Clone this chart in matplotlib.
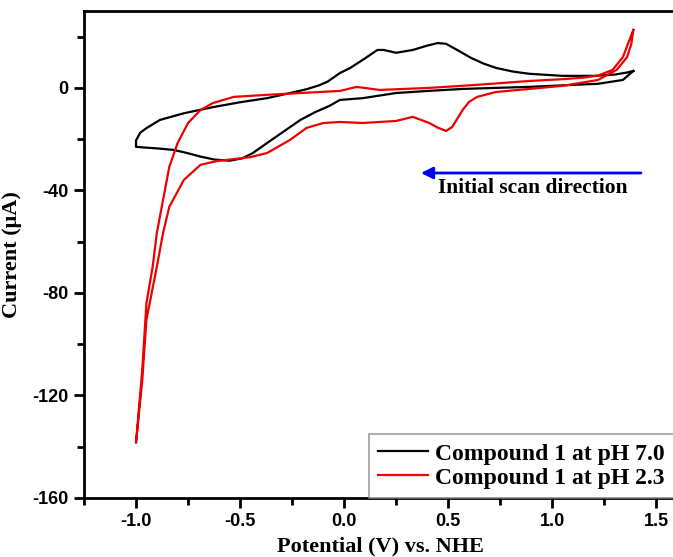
import matplotlib
matplotlib.use("Agg")
import matplotlib.pyplot as plt

plt.rcParams["axes.unicode_minus"] = False

# pH 7.0 cyclic voltammogram (V vs NHE, uA), starting at the anodic end
e_ph7 = [1.39, 1.34, 1.22, 1.05, 0.89, 0.73, 0.57, 0.40, 0.25, 0.09, -0.02, -0.07, -0.14, -0.21, -0.29,
         -0.37, -0.44, -0.49, -0.55, -0.62, -0.69, -0.76, -0.82, -0.90, -0.97, -1.0, -1.0, -0.98,
         -0.95, -0.885, -0.77, -0.63, -0.50, -0.37, -0.27, -0.18, -0.12, -0.08, -0.02, 0.03, 0.10,
         0.16, 0.19, 0.25, 0.33, 0.40, 0.45, 0.49, 0.55, 0.61, 0.67, 0.73, 0.81, 0.89, 1.05, 1.21,
         1.30, 1.36, 1.39]
i_ph7 = [6.6, 3.1, 1.6, 1.0, 0.4, 0.0, -0.4, -1.2, -2.0, -4.0, -4.7, -7.0, -9.5, -12.5, -17.0,
         -21.5, -25.5, -27.5, -28.4, -28.0, -26.8, -25.3, -24.2, -23.6, -23.2, -23.0, -20.5, -17.5,
         -15.7, -12.5, -9.9, -7.5, -5.6, -4.0, -2.2, -0.5, 1.0, 2.4, 5.8, 7.8, 11.5,
         14.8, 14.8, 13.7, 14.8, 16.5, 17.5, 17.2, 14.5, 11.7, 9.5, 7.8, 6.4, 5.5, 4.7, 4.7,
         5.2, 6.0, 6.6]

# pH 2.3 cyclic voltammogram
e_ph2 = [1.39, 1.38, 1.36, 1.31, 1.22, 1.05, 0.89, 0.73, 0.64, 0.60, 0.57, 0.52, 0.49, 0.45, 0.41,
         0.33, 0.25, 0.09, -0.02, -0.10, -0.18, -0.26, -0.37, -0.45, -0.53, -0.61, -0.69, -0.77,
         -0.84, -0.87, -0.90, -0.95, -0.97, -1.0, -0.97, -0.95, -0.92, -0.90, -0.87, -0.84, -0.80,
         -0.75, -0.69, -0.63, -0.53, -0.37, -0.21, -0.02, 0.06, 0.17, 0.41, 0.64, 0.89, 1.05,
         1.15, 1.22, 1.29, 1.34, 1.39]
i_ph2 = [22.6, 17.0, 12.0, 7.0, 3.1, 0.8, -0.4, -1.6, -3.5, -5.5, -8.6, -15.2, -16.8, -15.5, -13.7,
         -11.3, -12.9, -13.7, -13.3, -13.7, -15.6, -20.3, -25.4, -27.0, -27.8, -28.5, -30.0, -35.9,
         -46.4, -56.6, -69.8, -90.5, -114.0, -138.5, -110.0, -84.0, -69.8, -56.6, -43.7, -30.8, -21.5,
         -13.7, -8.6, -5.9, -3.5, -2.7, -2.0, -1.2, 0.4, -0.8, 0.0, 1.2, 2.7, 3.4,
         4.0, 4.8, 7.0, 12.0, 22.6]

labels = ["Compound 1 at pH 7.0", "Compound 1 at pH 2.3"]
x_ticks = [-1.0, -0.5, 0.0, 0.5, 1.0, 1.5]
y_ticks = [0, -40, -80, -120, -160]

serif = "Liberation Serif"
sans = "Liberation Sans"

fig = plt.figure(figsize=(6.73, 5.57), dpi=100)
ax = fig.add_axes([84 / 673, 1 - 498 / 557, (677 - 84) / 673, (498 - 11) / 557])

ax.plot(e_ph7, i_ph7, color="black", lw=1.6, label=labels[0])
ax.plot(e_ph2, i_ph2, color="#ee0000", lw=1.6, label=labels[1])

ax.set_xlim(-1.25, 1.6)
ax.set_ylim(-160, 30)
ax.set_xticks(x_ticks)
ax.set_xticklabels(["%.1f" % v for v in x_ticks])
ax.set_yticks(y_ticks)
ax.set_xticks([-1.25, -0.75, -0.25, 0.25, 0.75, 1.25], minor=True)
ax.set_yticks([20, -20, -60, -100, -140], minor=True)
ax.tick_params(which="major", direction="out", length=7, width=2)
ax.tick_params(which="minor", direction="out", length=5, width=2)
ax.tick_params(axis="y", pad=4)
for lab in ax.get_xticklabels() + ax.get_yticklabels():
    lab.set_fontfamily(sans)
    lab.set_fontweight("bold")
    lab.set_fontsize(13)
for sp in ax.spines.values():
    sp.set_linewidth(2)

ax.set_xlabel("Potential (V) vs. NHE", fontfamily=serif, fontweight="bold", fontsize=16, labelpad=5)
ax.set_ylabel("Current (μA)", fontfamily=serif, fontweight="bold", fontsize=16)
ax.yaxis.set_label_coords(-0.105, 0.5)

ax.annotate("", xy=(0.356, -33.2), xytext=(1.44, -33.2),
            arrowprops=dict(arrowstyle="-|>,head_length=0.7,head_width=0.35", color="#0000ee", lw=2))
ax.text(0.452, -41, "Initial scan direction", fontfamily=serif, fontweight="bold", fontsize=15.5,
        va="baseline", ha="left")

leg = ax.legend(loc="lower left", bbox_to_anchor=(0.48, 0.0), prop=dict(family=serif, weight="bold", size=17),
                frameon=True, fancybox=False, edgecolor="#888888", borderaxespad=0, borderpad=0.4,
                labelspacing=0.1, handlelength=2.1, handletextpad=0.3)
leg.get_frame().set_linewidth(1.2)

fig.savefig("out.png", dpi=100)
